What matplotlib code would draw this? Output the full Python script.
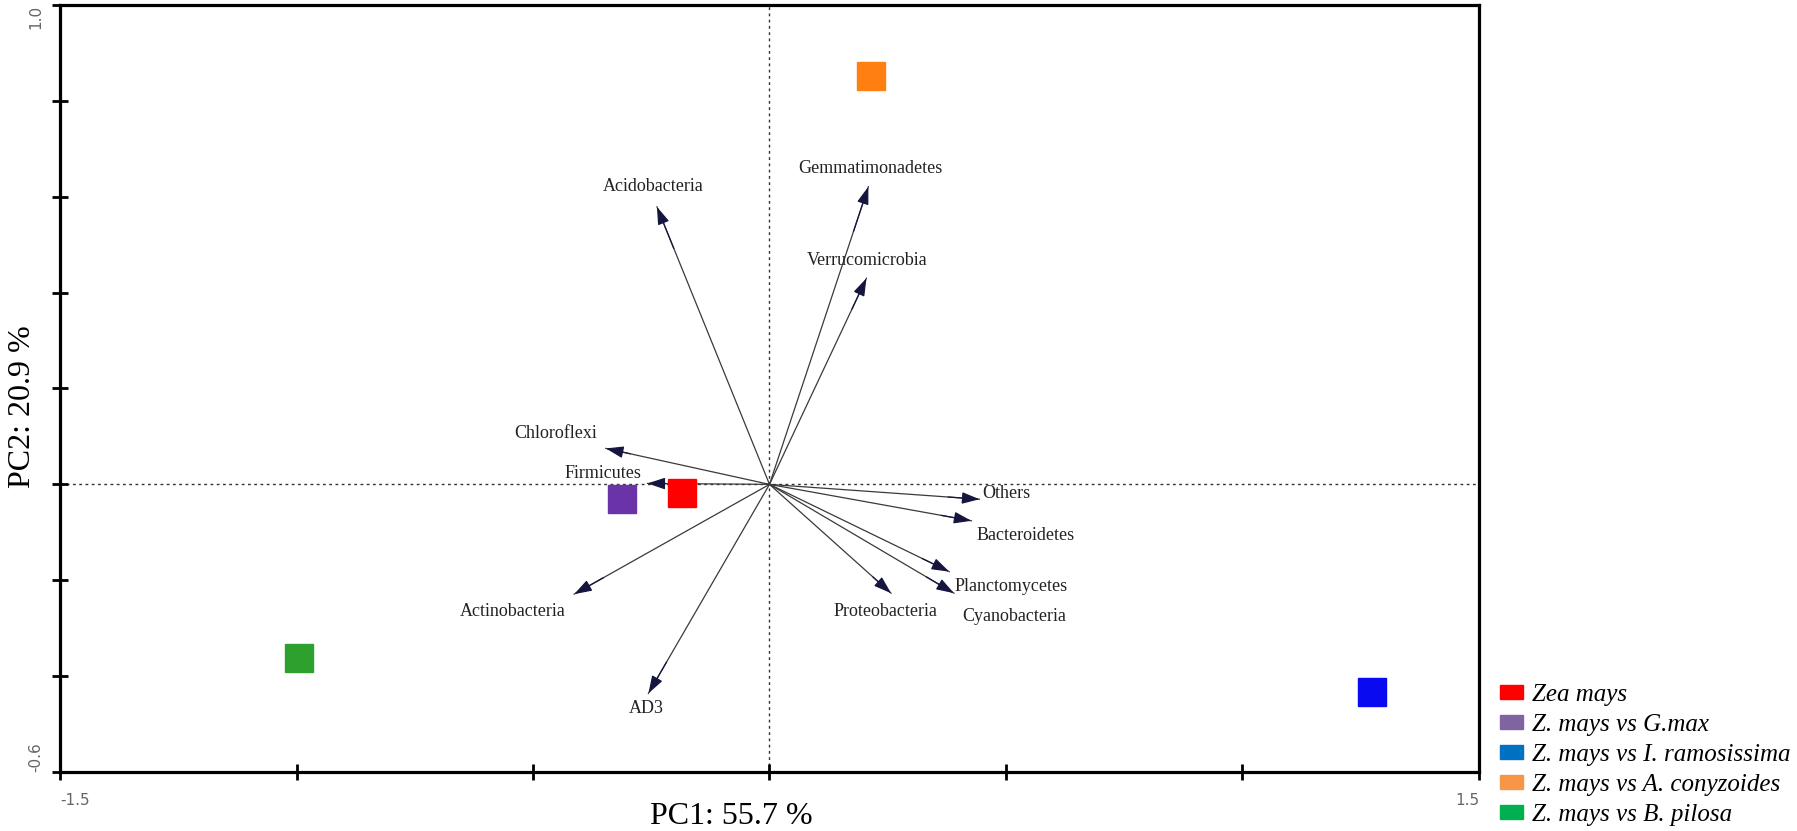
import matplotlib
matplotlib.use("Agg")
import matplotlib.pyplot as plt
from matplotlib.patches import Patch

# Sample scores (PC1, PC2)
groups = ["Zea mays", "Z. mays vs G.max", "Z. mays vs I. ramosissima",
          "Z. mays vs A. conyzoides", "Z. mays vs B. pilosa"]
pc1_scores = [-0.184, -0.312, 1.273, 0.214, -0.995]
pc2_scores = [-0.019, -0.031, -0.433, 0.852, -0.362]

# Loadings of the phyla (arrow tips)
phyla = ["Acidobacteria", "Gemmatimonadetes", "Verrucomicrobia", "Chloroflexi",
         "Firmicutes", "Others", "Bacteroidetes", "Planctomycetes",
         "Cyanobacteria", "Proteobacteria", "Actinobacteria", "AD3"]
load_pc1 = [-0.238, 0.209, 0.205, -0.346, -0.258, 0.444, 0.427, 0.380,
            0.390, 0.257, -0.413, -0.256]
load_pc2 = [0.579, 0.621, 0.430, 0.075, 0.002, -0.031, -0.076, -0.182,
            -0.227, -0.227, -0.229, -0.436]

# colours
marker_colors = ["#FF0000", "#6A34A8", "#0A0AF0", "#FF8010", "#2EA02E"]
legend_colors = ["#FF0000", "#8064A2", "#0070C0", "#F79646", "#00B050"]

# label offsets from arrow tips (pixels)
label_offsets = [(-4, 20), (2, 18), (1, 18), (-50, 15), (-45, 10), (27, 6),
                 (54, -15), (62, -15), (60, -23), (-6, -18), (-61, -17), (-2, -15)]

fig = plt.figure(figsize=(17.97, 8.31), dpi=100)
ax = fig.add_axes([60 / 1797, 1 - 772 / 831, 1419 / 1797, 767 / 831])

ax.set_xlim(-1.5, 1.5)
ax.set_ylim(-0.6, 1.0)

# dotted reference lines
ax.axhline(0, color="#333333", lw=1, ls=(0, (2, 2.5)), zorder=1)
ax.axvline(0, color="#333333", lw=1, ls=(0, (2, 2.5)), zorder=1)

# arrows (grey shaft, dark navy head) + labels
for name, lx, ly, off in zip(phyla, load_pc1, load_pc2, label_offsets):
    ax.plot([0, lx], [0, ly], color="#3a3a3a", lw=0.9, zorder=2)
    ax.annotate("", xy=(lx, ly), xytext=(0.85 * lx, 0.85 * ly),
                arrowprops=dict(arrowstyle="-|>,head_length=0.9,head_width=0.3",
                                color="#15153f", lw=0.9, shrinkA=0, shrinkB=0,
                                mutation_scale=12),
                zorder=2)
    ax.annotate(name, xy=(lx, ly), xytext=off, textcoords="offset pixels",
                ha="center", va="center", fontsize=13,
                family="Liberation Serif", color="#222222", zorder=3)

# sample points
for x, y, c in zip(pc1_scores, pc2_scores, marker_colors):
    ax.plot(x, y, marker="s", markersize=20, color=c, mec=c, ls="none", zorder=4)

# axes frame and ticks
for s in ax.spines.values():
    s.set_linewidth(2.3)
ax.set_xticks([-1.5, -1.0, -0.5, 0.0, 0.5, 1.0, 1.5])
ax.set_xticklabels(["-1.5", "", "", "", "", "", "1.5"])
ax.set_yticks([-0.6, -0.4, -0.2, 0.0, 0.2, 0.4, 0.6, 0.8, 1.0])
ax.set_yticklabels(["-0.6", "", "", "", "", "", "", "", "1.0"], rotation=90)
ax.tick_params(direction="inout", length=12, width=2, labelsize=11,
               labelcolor="#666666", pad=6)
ax.tick_params(axis="x", pad=9)
xl = ax.get_xticklabels()
xl[0].set_ha("left")
xl[-1].set_ha("right")
yl = ax.get_yticklabels()
yl[0].set_va("bottom")
yl[-1].set_va("top")

fig.text(731 / 1797, 1 - 816 / 831, "PC1: 55.7 %", ha="center", va="center",
         fontsize=23, family="Liberation Serif")
fig.text(23 / 1797, 1 - 407 / 831, "PC2: 20.9 %", ha="center", va="center",
         fontsize=23, family="Liberation Serif", rotation=90)

handles = [Patch(facecolor=c, edgecolor=c) for c in legend_colors]
fig.legend(handles, groups, loc="lower left", bbox_to_anchor=(1495 / 1797, 0.0),
           frameon=False, prop=dict(family="Liberation Serif", style="italic", size=18),
           handlelength=0.9, handleheight=0.5, handletextpad=0.4,
           labelspacing=0.32, borderaxespad=0, borderpad=0.2)

fig.savefig("out.png", dpi=100)
